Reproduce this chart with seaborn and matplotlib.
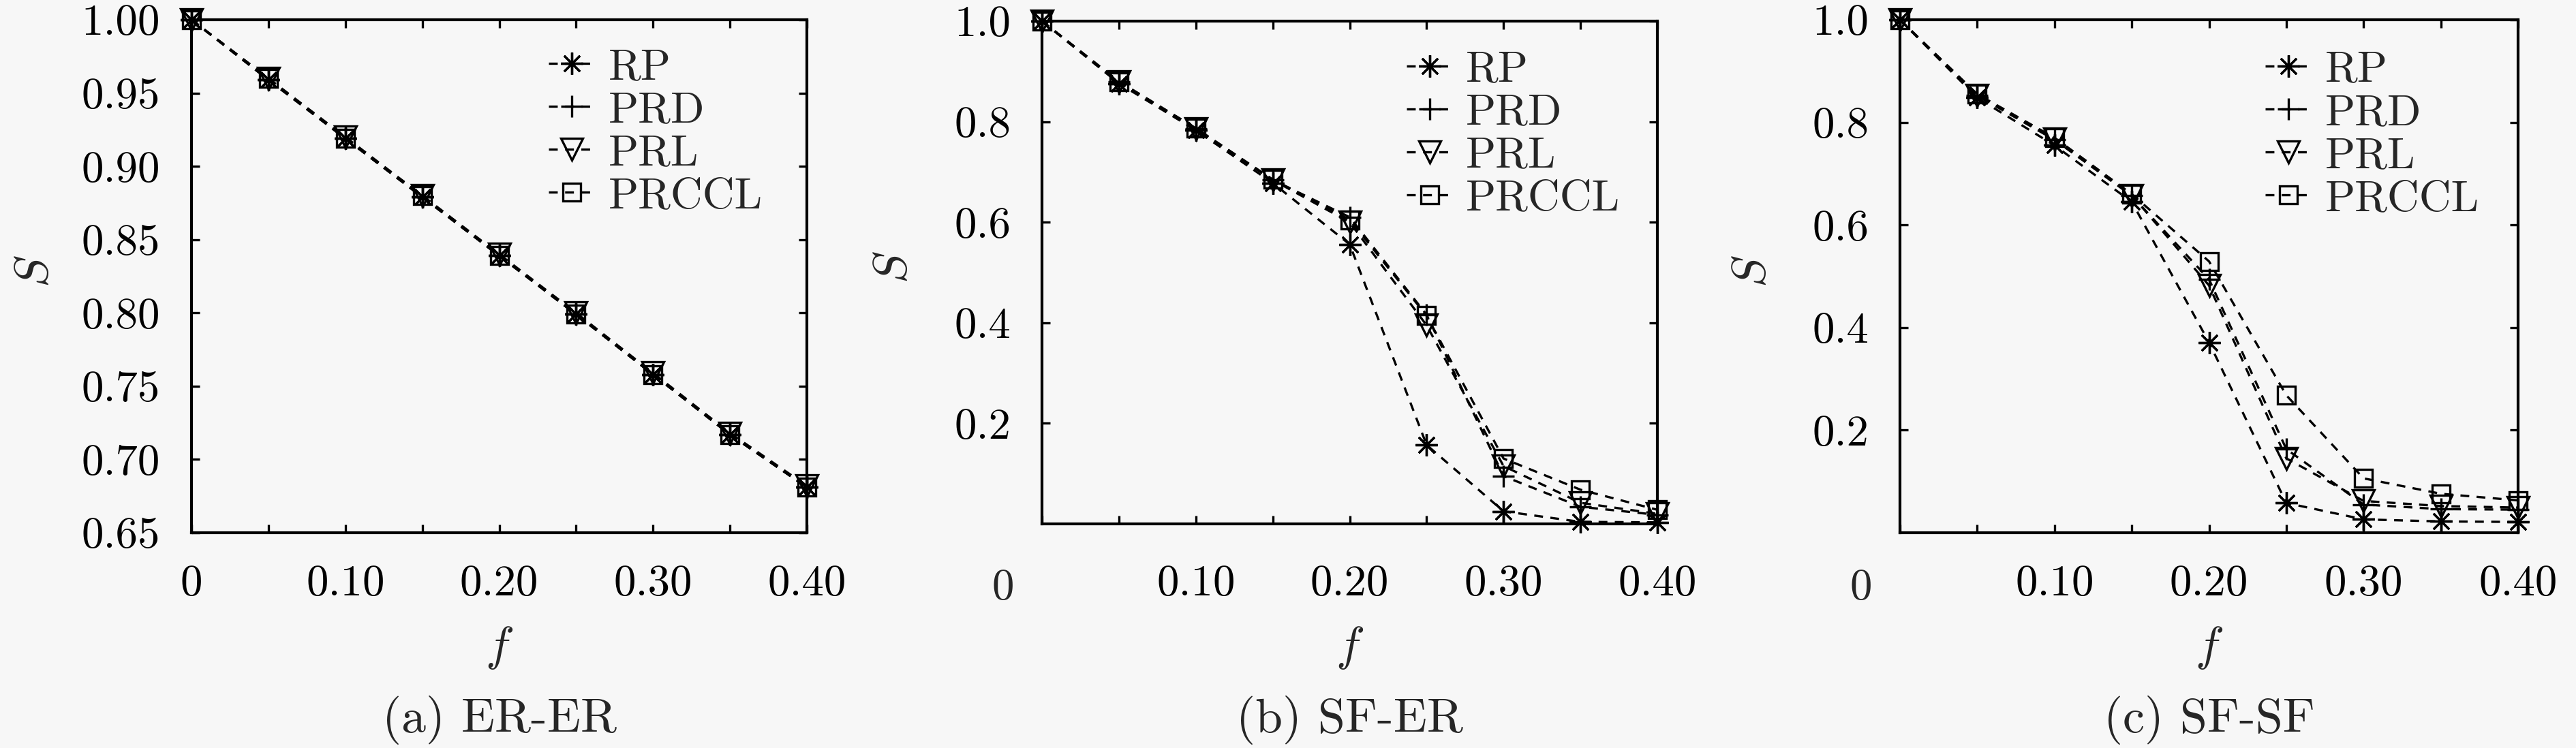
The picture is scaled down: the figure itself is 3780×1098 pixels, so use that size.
import matplotlib
matplotlib.use("Agg")
import matplotlib.pyplot as plt
import seaborn as sns

# removal fraction f (same for all panels)
f = [0.0, 0.05, 0.10, 0.15, 0.20, 0.25, 0.30, 0.35, 0.40]
methods = ["RP", "PRD", "PRL", "PRCCL"]

# (a) ER-ER
er_er_rp = [1.0, 0.959, 0.919, 0.879, 0.839, 0.799, 0.758, 0.717, 0.681]
er_er_prd = [1.0, 0.959, 0.919, 0.879, 0.839, 0.799, 0.758, 0.717, 0.681]
er_er_prl = [1.0, 0.960, 0.920, 0.880, 0.840, 0.800, 0.759, 0.718, 0.682]
er_er_prccl = [1.0, 0.960, 0.919, 0.880, 0.839, 0.799, 0.758, 0.717, 0.681]

# (b) SF-ER
sf_er_rp = [1.0, 0.876, 0.783, 0.678, 0.556, 0.157, 0.025, 0.004, 0.003]
sf_er_prd = [1.0, 0.879, 0.786, 0.684, 0.610, 0.416, 0.095, 0.034, 0.018]
sf_er_prl = [1.0, 0.879, 0.786, 0.684, 0.600, 0.395, 0.115, 0.042, 0.020]
sf_er_prccl = [1.0, 0.880, 0.787, 0.685, 0.605, 0.414, 0.130, 0.068, 0.028]

# (c) SF-SF
sf_sf_rp = [1.0, 0.848, 0.755, 0.645, 0.371, 0.058, 0.026, 0.022, 0.021]
sf_sf_prd = [1.0, 0.852, 0.766, 0.657, 0.494, 0.163, 0.055, 0.046, 0.045]
sf_sf_prl = [1.0, 0.853, 0.768, 0.658, 0.482, 0.145, 0.062, 0.052, 0.049]
sf_sf_prccl = [1.0, 0.855, 0.770, 0.660, 0.529, 0.268, 0.106, 0.076, 0.063]

captions = ["(a) ER-ER", "(b) SF-ER", "(c) SF-SF"]
panel_data = [
    [er_er_rp, er_er_prd, er_er_prl, er_er_prccl],
    [sf_er_rp, sf_er_prd, sf_er_prl, sf_er_prccl],
    [sf_sf_rp, sf_sf_prd, sf_sf_prl, sf_sf_prccl],
]

x_ticks = [0.0, 0.05, 0.10, 0.15, 0.20, 0.25, 0.30, 0.35, 0.40]
x_ticklabels = ["0", "", "0.10", "", "0.20", "", "0.30", "", "0.40"]
y_ticks_a = [0.65, 0.70, 0.75, 0.80, 0.85, 0.90, 0.95, 1.00]
y_ticklabels_a = ["0.65", "0.70", "0.75", "0.80", "0.85", "0.90", "0.95", "1.00"]
y_ticks_b = [0.2, 0.4, 0.6, 0.8, 1.0]
y_ticklabels_b = ["0.2", "0.4", "0.6", "0.8", "1.0"]

bg = "#f7f7f7"
sns.set_theme(style="ticks")
plt.rcParams.update({
    "font.family": ["cmr10", "DejaVu Serif"],
    "mathtext.fontset": "cm",
    "axes.formatter.use_mathtext": True,
    "lines.scale_dashes": False,
    "axes.edgecolor": "black",
    "axes.linewidth": 1.0,
    "figure.facecolor": bg,
    "axes.facecolor": bg,
    "savefig.facecolor": bg,
})

markers = {"RP": (8, 2, 0), "PRD": "+", "PRL": "v", "PRCCL": "s"}
msizes = {"RP": 7.8, "PRD": 7.6, "PRL": 7.6, "PRCCL": 6.2}
dash = (0, (3.1, 2.6))

fig = plt.figure(figsize=(12.6, 3.66), dpi=300)

rects = [
    [0.07434, 0.28780, 0.23889, 0.68579],
    [0.40450, 0.29964, 0.23889, 0.67213],
    [0.73757, 0.28780, 0.23995, 0.68579],
]
xpads = [11.2, 14.3, 11.2]
legend_xy = [(0.580, 0.945), (0.592, 0.942), (0.591, 0.940)]
ylab_x = [-0.254, -0.240, -0.238]
xlab_y = [-0.2245, -0.2466, -0.2245]

for i in range(3):
    ax = fig.add_axes(rects[i])
    for name, vals in zip(methods, panel_data[i]):
        sns.lineplot(x=f, y=vals, ax=ax, color="black", errorbar=None,
                     marker=markers[name], markersize=msizes[name],
                     markeredgecolor="black", markerfacecolor="none",
                     markeredgewidth=0.8, linewidth=0.8, linestyle=dash,
                     label=name, clip_on=False)

    ax.set_xlim(0, 0.40)
    ax.set_xticks(x_ticks)
    if i == 0:
        ax.set_ylim(0.65, 1.0)
        ax.set_yticks(y_ticks_a)
        ax.set_yticklabels(y_ticklabels_a)
        ax.set_xticklabels(x_ticklabels)
    else:
        ax.set_ylim(0, 1.0)
        ax.set_yticks(y_ticks_b)
        ax.set_yticklabels(y_ticklabels_b)
        ax.set_xticklabels([""] + x_ticklabels[1:])
        # the "0" sits to the left of the axis in these panels
        ax.annotate("0", xy=(0, 0), xycoords="axes fraction",
                    xytext=(-13.7, -(xpads[i] + 8.5)), textcoords="offset points",
                    ha="center", va="center", fontsize=15.6)

    ax.tick_params(axis="both", direction="in", length=2.9, width=0.8,
                   colors="black", labelsize=15.6, top=True, right=True)
    ax.tick_params(axis="x", pad=xpads[i])
    ax.tick_params(axis="y", pad=11)
    for sp in ax.spines.values():
        sp.set_linewidth(1.0)
        sp.set_color("black")
    ax.grid(False)

    ax.set_xlabel("$f$", fontsize=17)
    ax.set_ylabel("$S$", fontsize=17)
    ax.xaxis.set_label_coords(0.5, xlab_y[i])
    ax.xaxis.label.set_verticalalignment("center")
    ax.yaxis.set_label_coords(ylab_x[i], 0.51)
    ax.yaxis.label.set_verticalalignment("center")

    ax.legend(loc="upper left", bbox_to_anchor=legend_xy[i], frameon=False,
              fontsize=15.6, handlelength=1.05, handletextpad=0.3,
              labelspacing=0.07, borderpad=0, borderaxespad=0, numpoints=1)

    cx = rects[i][0] + rects[i][2] / 2
    fig.text(cx, 0.0374, captions[i], ha="center", va="center", fontsize=17.3)

fig.savefig("out.png", dpi=300)
